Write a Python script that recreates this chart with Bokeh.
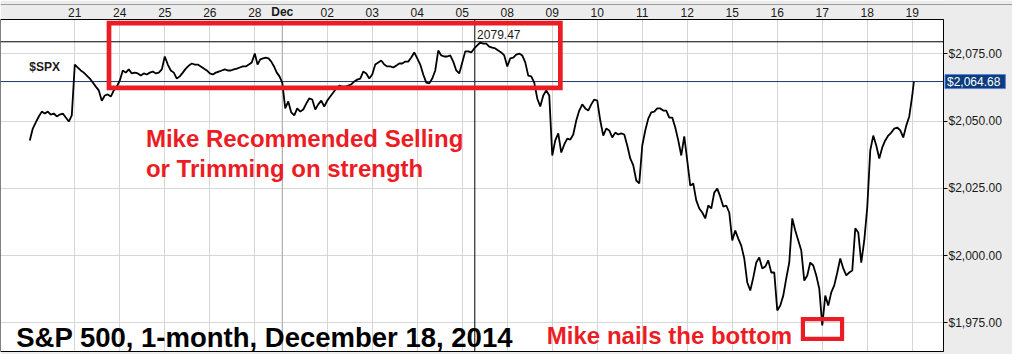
from bokeh.plotting import figure
from bokeh.models import (FixedTicker, NumeralTickFormatter, Label, BoxAnnotation, Range1d)
from bokeh.embed import file_html
from bokeh.resources import INLINE

# ---------------- data (S&P 500 intraday) ----------------
session_names = ["20", "21", "24", "25", "26", "28", "Dec", "02", "03", "04", "05",
                 "08", "09", "10", "11", "12", "15", "16", "17", "18", "19"]
session_starts = [0, 1, 2, 3, 4, 5, 5.61, 6.61, 7.61, 8.61, 9.61,
                  10.61, 11.61, 12.61, 13.61, 14.61, 15.61, 16.61, 17.61, 18.61, 19.61]
session_lengths = [1, 1, 1, 1, 1, 0.61, 1, 1, 1, 1, 1,
                   1, 1, 1, 1, 1, 1, 1, 1, 1, 0.07]

nov20 = [2042.8, 2047.2, 2049.5, 2051.7, 2053.5, 2052.8, 2053.5, 2052.4, 2052.8, 2051.7, 2052.4, 2052.8, 2051.3, 2049.8, 2052.1]
nov21 = [2071.0, 2069.9, 2068.8, 2068.0, 2066.9, 2065.8, 2064.3, 2062.8, 2061.4, 2057.5, 2059.5, 2059.9, 2059.1, 2061.4, 2062.8]
nov24 = [2065.1, 2068.8, 2068.0, 2069.2, 2067.7, 2068.0, 2067.7, 2066.9, 2067.7, 2067.3, 2068.0, 2068.4, 2067.7, 2068.0, 2069.2]
nov25 = [2074.0, 2071.0, 2068.8, 2068.0, 2065.8, 2066.6, 2068.0, 2069.5, 2070.6, 2071.4, 2071.0, 2071.0, 2070.3, 2069.5, 2068.8]
nov26 = [2067.7, 2067.3, 2068.0, 2068.4, 2068.8, 2069.2, 2068.8, 2068.8, 2069.2, 2069.5, 2069.9, 2070.3, 2070.3, 2071.0, 2071.8]
nov28 = [2075.1, 2071.0, 2072.9, 2073.3, 2073.6, 2073.3, 2072.1, 2070.3, 2068.0, 2066.6]
dec01 = [2064.3, 2054.7, 2057.3, 2053.2, 2052.1, 2054.7, 2053.5, 2054.3, 2056.5, 2058.4, 2058.0, 2054.3, 2056.2, 2057.6, 2055.4]
dec02 = [2057.6, 2059.1, 2060.6, 2062.1, 2063.2, 2062.8, 2062.8, 2063.2, 2063.6, 2064.7, 2065.4, 2065.8, 2068.4, 2067.7, 2065.8]
dec03 = [2067.3, 2071.0, 2071.8, 2072.5, 2071.0, 2070.3, 2070.3, 2069.9, 2070.6, 2071.4, 2071.4, 2072.1, 2072.1, 2073.6, 2075.5]
dec04 = [2073.3, 2071.0, 2067.3, 2064.3, 2064.0, 2065.8, 2068.8, 2076.2, 2074.4, 2074.0, 2074.0, 2074.4, 2072.1, 2068.8, 2067.7]
dec05 = [2071.8, 2075.9, 2075.9, 2075.5, 2077.0, 2078.1, 2079.2, 2078.8, 2078.8, 2077.7, 2077.3, 2077.0, 2076.2, 2075.5, 2074.4]
dec08 = [2070.3, 2073.3, 2073.6, 2074.7, 2075.1, 2074.4, 2071.8, 2066.9, 2066.6, 2064.3, 2058.4, 2055.4, 2059.5, 2061.4, 2059.5]
dec09 = [2037.2, 2042.8, 2045.4, 2038.3, 2041.3, 2043.5, 2043.1, 2045.0, 2050.2, 2053.9, 2056.2, 2054.7, 2053.9, 2056.2, 2058.0]
dec10 = [2057.6, 2050.2, 2044.6, 2047.2, 2046.5, 2043.9, 2045.7, 2045.0, 2045.4, 2045.0, 2040.9, 2036.1, 2033.5, 2027.9, 2026.8]
dec11 = [2040.9, 2046.5, 2050.9, 2053.2, 2053.5, 2054.7, 2054.7, 2053.9, 2053.9, 2051.3, 2051.3, 2047.6, 2042.8, 2037.2, 2044.3]
dec12 = [2035.3, 2026.0, 2026.8, 2020.5, 2017.5, 2016.0, 2013.8, 2018.6, 2017.5, 2023.4, 2024.9, 2021.9, 2018.2, 2018.6, 2016.0]
dec15 = [2005.6, 2009.3, 2006.3, 2003.7, 1998.9, 1990.0, 1987.0, 1991.8, 1997.4, 1999.3, 1995.2, 1995.9, 1998.2, 1993.7, 1993.7]
dec16 = [1979.6, 1981.4, 1985.1, 1991.5, 1997.4, 2013.8, 2009.3, 2005.6, 2001.9, 1990.7, 1992.6, 1997.4, 1996.3, 1992.6, 1987.7]
dec17 = [1974.0, 1985.1, 1981.4, 1986.3, 1988.9, 1993.7, 1998.9, 1995.2, 1992.6, 1993.7, 1994.4, 2010.1, 2008.6, 1997.4, 2005.6]
dec18 = [2018.0, 2039.1, 2044.6, 2040.9, 2036.1, 2040.2, 2042.8, 2044.6, 2045.7, 2047.2, 2047.6, 2046.5, 2043.9, 2048.3, 2051.7]
dec19 = [2059.5, 2064.68]

sessions = [nov20, nov21, nov24, nov25, nov26, nov28, dec01, dec02, dec03, dec04, dec05,
            dec08, dec09, dec10, dec11, dec12, dec15, dec16, dec17, dec18, dec19]

y_ticks = [1975, 2000, 2025, 2050, 2075]
last_price = 2064.68
crosshair_price = 2079.47
crosshair_pos = 9.889

# ---------------- build series ----------------
xs, ys = [], []
for start, length, vals in zip(session_starts, session_lengths, sessions):
    n = len(vals)
    for i, v in enumerate(vals):
        xs.append(start + i * length / n)
        ys.append(v)

tick_pos = session_starts[1:]
tick_labels = session_names[1:]
dec_pos = tick_pos[tick_labels.index("Dec")]

FONT = "Liberation Sans"
RED = "#EC1C24"
GREY = "#ECECEC"
PX = 45.0                      # pixels per session unit
PY = 2.69                      # pixels per dollar
X0, X1 = -0.651, 20.304        # chart area (white)
Y0, Y1 = 1964.33, 2087.75
XR = X1 + 69 / PX              # canvas right edge (price-axis strip)
YT = Y1 + 19 / PY              # canvas top (date strip)
YB = Y0 - 3 / PY               # canvas bottom

p = figure(width=1012, height=354, output_backend="svg", toolbar_location=None,
           x_axis_location="above", y_axis_location="right",
           x_range=Range1d(X0, XR), y_range=Range1d(YB, YT),
           min_border_left=0, min_border_right=0, min_border_top=0, min_border_bottom=0)
p.border_fill_color = GREY
p.background_fill_color = "white"
p.outline_line_color = None

# x axis (dates, along the top of the chart area)
p.xaxis.fixed_location = Y1
p.xaxis.bounds = (X0, X1)
p.xaxis.ticker = FixedTicker(ticks=tick_pos)
p.xaxis.major_label_overrides = {t: ("" if l == "Dec" else l) for t, l in zip(tick_pos, tick_labels)}
p.xaxis.major_tick_out = 0
p.xaxis.major_tick_in = 0
p.xaxis.minor_tick_line_color = None
p.xaxis.axis_line_color = None
p.xaxis.major_label_standoff = 3
p.xaxis.major_label_text_font = FONT
p.xaxis.major_label_text_font_size = "12px"
p.xaxis.major_label_text_color = "#1a1a1a"

# y axis (prices, along the right edge of the chart area)
p.yaxis.fixed_location = X1
p.yaxis.bounds = (Y0, Y1)
p.yaxis.ticker = FixedTicker(ticks=y_ticks)
p.yaxis.formatter = NumeralTickFormatter(format="$0,0.00")
p.yaxis.major_tick_out = 4
p.yaxis.major_tick_in = 0
p.yaxis.minor_tick_line_color = None
p.yaxis.major_tick_line_color = "black"
p.yaxis.axis_line_color = "black"
p.yaxis.major_label_standoff = 1
p.yaxis.major_label_text_font = FONT
p.yaxis.major_label_text_font_size = "12px"
p.yaxis.major_label_text_color = "#1a1a1a"

p.xgrid.ticker = FixedTicker(ticks=tick_pos)
p.ygrid.ticker = FixedTicker(ticks=y_ticks)
p.xgrid.grid_line_color = "#D6D6D6"
p.ygrid.grid_line_color = "#D6D6D6"

# grey strips around the chart area (beneath the axes)
for box in (dict(left=X1, right=XR, bottom=YB, top=YT),
            dict(left=X0, right=XR, bottom=Y1, top=YT),
            dict(left=X0, right=XR, bottom=YB, top=Y0)):
    p.add_layout(BoxAnnotation(**box, fill_color=GREY, fill_alpha=1, line_color=None,
                               level="underlay"))

# header rule, month divider, crosshair and last-price line
p.segment(x0=[X0], x1=[XR], y0=[Y1 + 15 / PY], y1=[Y1 + 15 / PY], line_color="#9C9C9C", line_width=1)
p.segment(x0=[dec_pos], x1=[dec_pos], y0=[Y0], y1=[Y1], line_color="#A9A9A9", line_width=1)
p.segment(x0=[X0], x1=[X1], y0=[crosshair_price], y1=[crosshair_price], line_color="black", line_width=1)
p.segment(x0=[crosshair_pos], x1=[crosshair_pos], y0=[Y0], y1=[Y1], line_color="black", line_width=1)
p.segment(x0=[X0], x1=[X1], y0=[last_price], y1=[last_price], line_color="#1B3A6B", line_width=1)

p.line(xs, ys, line_color="black", line_width=1.8)

# chart-area frame
p.add_layout(BoxAnnotation(left=X0, right=X1, bottom=Y0, top=Y1, fill_color=None, fill_alpha=0,
                           line_color="black", line_alpha=1, line_width=1))

# red highlight boxes
p.add_layout(BoxAnnotation(left=1.76, right=11.79, top=2086.4, bottom=2062.3,
                           fill_color=None, fill_alpha=0, line_color=RED, line_alpha=1,
                           line_width=4.7, line_join="miter"))
p.add_layout(BoxAnnotation(left=17.18, right=18.05, top=1976.4, bottom=1969.0,
                           fill_color=None, fill_alpha=0, line_color=RED, line_alpha=1,
                           line_width=4.2, line_join="miter"))

# texts
p.add_layout(Label(x=dec_pos, y=Y1 + 7.5 / PY, text="Dec", text_font=FONT, text_font_size="12px",
                   text_font_style="bold", text_color="#1a1a1a", text_align="center",
                   text_baseline="middle"))
p.add_layout(Label(x=X1 + 1.5 / PX, y=last_price, text=f"${last_price:,.2f}", text_font=FONT,
                   text_font_size="12px", text_color="white", text_baseline="middle",
                   background_fill_color="#0B3D7C", border_line_color="#5A7FE0",
                   padding=dict(left=2, right=5, top=0, bottom=0)))
p.add_layout(Label(x=-0.011, y=2070.1, text="$SPX", text_font=FONT, text_font_size="12px",
                   text_font_style="bold", text_color="#1a1a1a", text_baseline="middle"))
p.add_layout(Label(x=9.94, y=2082.2, text=f"{crosshair_price:.2f}", text_font=FONT,
                   text_font_size="12px", text_color="#1a1a1a", text_baseline="middle"))
p.add_layout(Label(x=2.58, y=2043.4, text="Mike Recommended Selling", text_font=FONT,
                   text_font_size="24px", text_font_style="bold", text_color=RED,
                   text_baseline="alphabetic"))
p.add_layout(Label(x=2.58, y=2032.4, text="or Trimming on strength", text_font=FONT,
                   text_font_size="24px", text_font_style="bold", text_color=RED,
                   text_baseline="alphabetic"))
p.add_layout(Label(x=11.49, y=1970.3, text="Mike nails the bottom", text_font=FONT,
                   text_font_size="24px", text_font_style="bold", text_color=RED,
                   text_baseline="alphabetic"))
p.add_layout(Label(x=-0.302, y=1969.4, text="S&P 500, 1-month, December 18, 2014", text_font=FONT,
                   text_font_size="27.5px", text_font_style="bold", text_color="black",
                   text_baseline="alphabetic"))

open("out.html", "w").write(file_html(p, INLINE))
